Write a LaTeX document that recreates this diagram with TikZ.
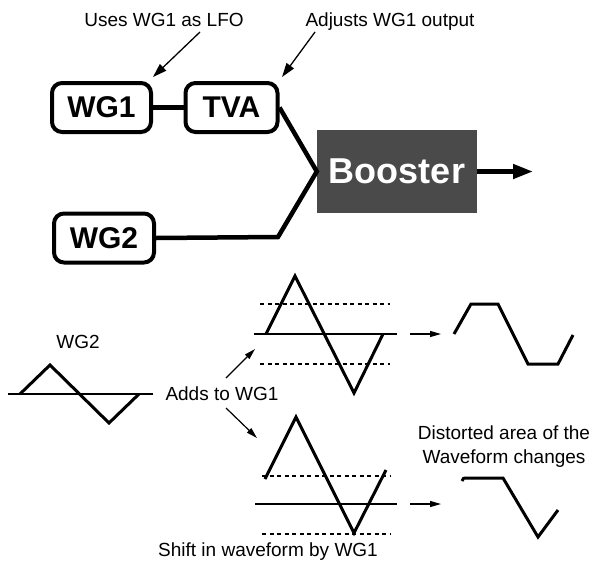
\documentclass[tikz,border=0pt]{standalone}
\usepackage{fontspec}
\setmainfont{Liberation Sans}
\usetikzlibrary{arrows.meta}
\definecolor{boostergray}{RGB}{74,74,74}

\begin{document}
\begin{tikzpicture}[
  x = 1pt, y = -1pt,
  block/.style = {
    shape = rectangle,
    draw = black,
    line width = 4pt,
    rounded corners = 10pt,
    minimum width = 99pt,
    minimum height = 49pt,
    inner sep = 0pt,
    font = \fontsize{30}{30}\selectfont\bfseries,
  },
  note/.style = {
    anchor = base,
    inner sep = 0pt,
    align = center,
    font = \fontsize{19}{24}\selectfont,
  },
  link/.style = {line width = 4.5pt, line join = miter},
  pointer/.style = {-{Triangle[length = 14pt, width = 9pt]}, line width = 1.3pt},
  tinyarrow/.style = {-{Triangle[length = 11pt, width = 6pt]}, line width = 1.2pt},
  wave/.style = {line width = 3pt, line join = miter},
  axis/.style = {line width = 1.3pt},
  limit/.style = {line width = 1.4pt, dash pattern = on 4pt off 3.5pt},
]
  \useasboundingbox (0, 0) rectangle (596, 570);

  % signal path
  \node[block] (wg1) at (101.5, 107.5) {WG1};
  \node[block, minimum width = 92pt] (tva) at (231.5, 107.5) {TVA};
  \node[block, minimum width = 100pt] (wg2) at (104, 238) {WG2};
  \node[fill = boostergray, text = white, minimum width = 160pt, minimum height = 83pt,
    inner sep = 0pt, font = \fontsize{36}{36}\selectfont\bfseries] (booster) at (397, 171.5) {Booster};
  \coordinate (bend) at (278, 237);
  \coordinate (out) at (533, 171.5);

  \draw[link] (wg1) -- (tva);
  \draw[link] (tva.east) -- (booster.west) -- (bend) -- (wg2.east);
  \draw[line width = 4.5pt, -{Triangle[length = 20pt, width = 14pt]}] (booster) -- (out);

  % notes on top
  \node[note] (lfo) at (164, 26) {Uses WG1 as LFO};
  \node[note] (adjust) at (390, 26) {Adjusts WG1 output};
  \coordinate (lfo tail) at (200, 32);
  \coordinate (adjust tail) at (315, 32);
  \draw[pointer] (lfo tail) -- (153, 77);
  \draw[pointer] (adjust tail) -- (282, 77);

  % WG2 waveform
  \node[note] (wg2 label) at (78, 348) {WG2};
  \draw[axis] (8, 394) -- (153, 394);
  \draw[wave] (20, 394) -- (50, 365) -- (109, 423) -- (139, 394);

  \node[note] (adds) at (222, 400) {Adds to WG1};
  \coordinate (up tail) at (226, 378);
  \coordinate (down tail) at (226, 408);
  \draw[tinyarrow] (up tail) -- (255, 349);
  \draw[tinyarrow] (down tail) -- (257, 438);

  % upper case
  \draw[axis] (254, 334) -- (397, 334);
  \draw[limit] (260, 304) -- (390, 304);
  \draw[limit] (260, 364) -- (390, 364);
  \draw[wave] (266, 334) -- (295, 276) -- (354, 393) -- (383, 334);
  \draw[tinyarrow] (410, 334) -- (441, 334);
  \draw[wave] (454, 334) -- (471, 304) -- (498, 304) -- (528, 364) -- (558, 364) -- (573, 335);

  % lower case
  \draw[axis] (255, 504) -- (397, 504);
  \draw[limit] (262, 476) -- (390, 476);
  \draw[limit] (262, 534) -- (390, 534);
  \draw[wave] (265, 479) -- (296, 417) -- (354, 533) -- (386, 470);
  \draw[tinyarrow] (410, 504) -- (441, 504);
  \draw[wave] (462, 481) .. controls (463, 478) .. (468, 478) -- (503, 478) -- (538, 537) -- (558, 510);

  \node[note] (distort) at (504, 463) {Distorted area of the\\Waveform changes};
  \node[note] (shift) at (268, 556) {Shift in waveform by WG1};
\end{tikzpicture}
\end{document}
